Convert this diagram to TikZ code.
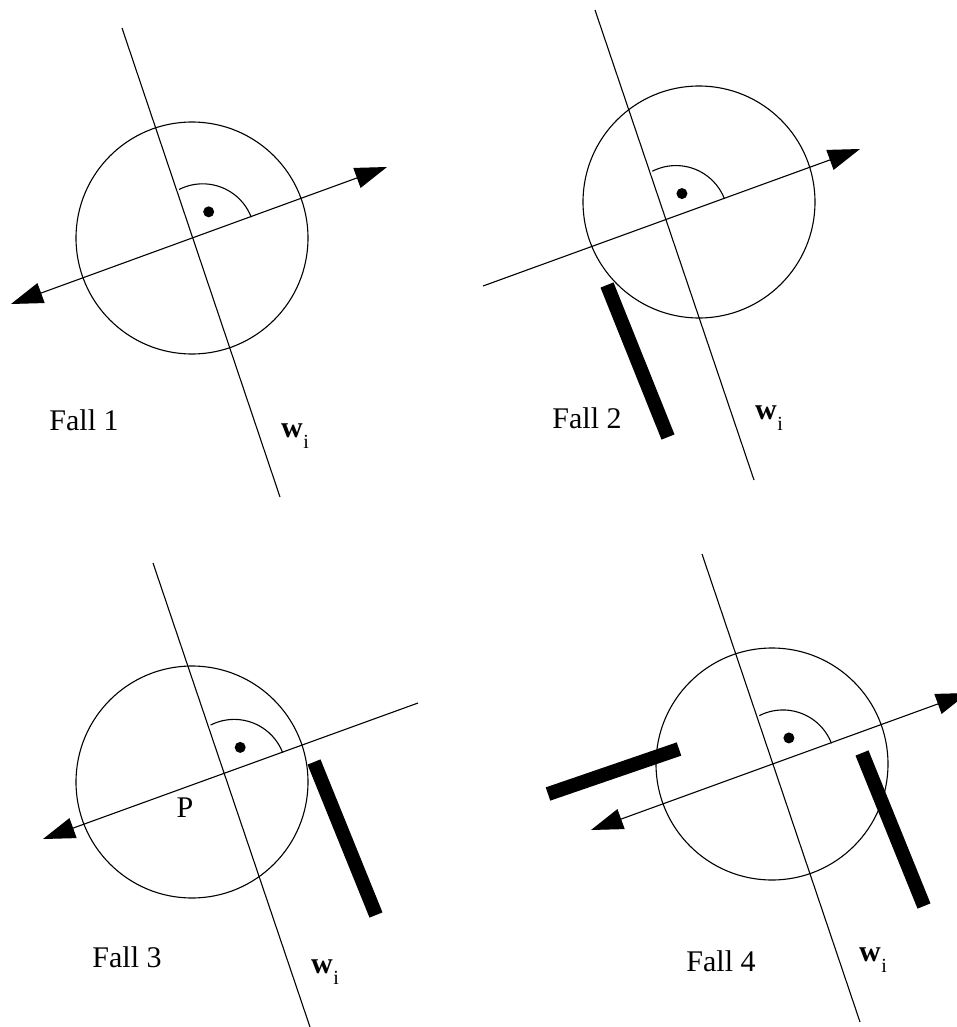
\documentclass[tikz,border=0pt]{standalone}
\usepackage{fontspec}
\setmainfont{Liberation Serif}
\usetikzlibrary{arrows.meta,calc}
\newcommand{\wlabeltext}{\textbf{w}\kern0.5pt\raisebox{-11pt}{\fontsize{20}{24}\selectfont i}}
\tikzset{
  thinline/.style={line width=1.1pt},
  barline/.style={line width=14pt, line cap=butt},
  big/.tip={Triangle[length=32pt,width=21pt]},
  fall/.style={font=\fontsize{30}{36}\selectfont, anchor=base, inner sep=0pt},
  wlab/.style={font=\fontsize{30}{36}\selectfont, anchor=base west, inner sep=0pt},
  ring/.style={thinline},
}
\begin{document}
\begin{tikzpicture}[x=1pt,y=-1pt]
\path[use as bounding box] (0,0) rectangle (957,1027);
\clip (0,0) rectangle (957,1027);

% ---------- Fall 1 ----------
\coordinate (v1a) at (122,28);  \coordinate (v1b) at (280,497);
\coordinate (h1a) at (11,304);  \coordinate (h1b) at (387,167);
\coordinate (o1) at (intersection of v1a--v1b and h1a--h1b);
\coordinate (c1) at (192,238);
\draw[ring] (c1) circle[radius=116];
\draw[thinline] (v1a) -- (v1b);
\draw[thinline, big-big] (h1a) -- (h1b);
\draw[thinline] ($(o1)+(10,-2)$) ++(-117:52) arc[start angle=-117,end angle=-21,radius=52];
\fill ($(o1)+(16,-26)$) circle[radius=5.5];
\node[fall] (f1) at (84,430) {Fall 1};
\node[wlab] (w1) at (281,437) {\wlabeltext};

% ---------- Fall 2 ----------
\coordinate (v2a) at (595,10);  \coordinate (v2b) at (754,480);
\coordinate (h2a) at (483,286); \coordinate (h2b) at (860,149);
\coordinate (o2) at (intersection of v2a--v2b and h2a--h2b);
\coordinate (c2) at (699,202);
\draw[ring] (c2) circle[radius=116];
\draw[thinline] (v2a) -- (v2b);
\draw[thinline, -big] (h2a) -- (h2b);
\draw[thinline] ($(o2)+(10,-2)$) ++(-117:52) arc[start angle=-117,end angle=-21,radius=52];
\fill ($(o2)+(16,-26)$) circle[radius=5.5];
\coordinate (b2a) at (607,285); \coordinate (b2b) at (668,437);
\draw[barline] (b2a) -- (b2b);
\node[fall] (f2) at (587,428) {Fall 2};
\node[wlab] (w2) at (755,419) {\wlabeltext};

% ---------- Fall 3 ----------
\coordinate (v3a) at (153,563); \coordinate (v3b) at (310,1027);
\coordinate (h3a) at (43,839);  \coordinate (h3b) at (418,703);
\coordinate (o3) at (intersection of v3a--v3b and h3a--h3b);
\coordinate (c3) at (192,782);
\draw[ring] (c3) circle[radius=116];
\draw[thinline] (v3a) -- (v3b);
\draw[thinline, big-] (h3a) -- (h3b);
\draw[thinline] ($(o3)+(10,-2)$) ++(-117:52) arc[start angle=-117,end angle=-21,radius=52];
\fill ($(o3)+(16,-26)$) circle[radius=5.5];
\coordinate (b3a) at (314,762); \coordinate (b3b) at (376,915);
\draw[barline] (b3a) -- (b3b);
\node[fall] (p3) at (185,817) {P};
\node[fall] (f3) at (127,967) {Fall 3};
\node[wlab] (w3) at (311,973) {\wlabeltext};

% ---------- Fall 4 ----------
\coordinate (v4a) at (702,554); \coordinate (v4b) at (860,1022);
\coordinate (h4a) at (591,830); \coordinate (h4b) at (968,693);
\coordinate (o4) at (intersection of v4a--v4b and h4a--h4b);
\coordinate (c4) at (772,764);
\draw[ring] (c4) circle[radius=116];
\draw[thinline] (v4a) -- (v4b);
\draw[thinline, big-big] (h4a) -- (h4b);
\draw[thinline] ($(o4)+(10,-2)$) ++(-117:52) arc[start angle=-117,end angle=-21,radius=52];
\fill ($(o4)+(16,-26)$) circle[radius=5.5];
\coordinate (b4a) at (548,794); \coordinate (b4b) at (679,749);
\draw[barline] (b4a) -- (b4b);
\coordinate (b4c) at (862,753); \coordinate (b4d) at (924,906);
\draw[barline] (b4c) -- (b4d);
\node[fall] (f4) at (721,971) {Fall 4};
\node[wlab] (w4) at (859,961) {\wlabeltext};
\end{tikzpicture}
\end{document}
